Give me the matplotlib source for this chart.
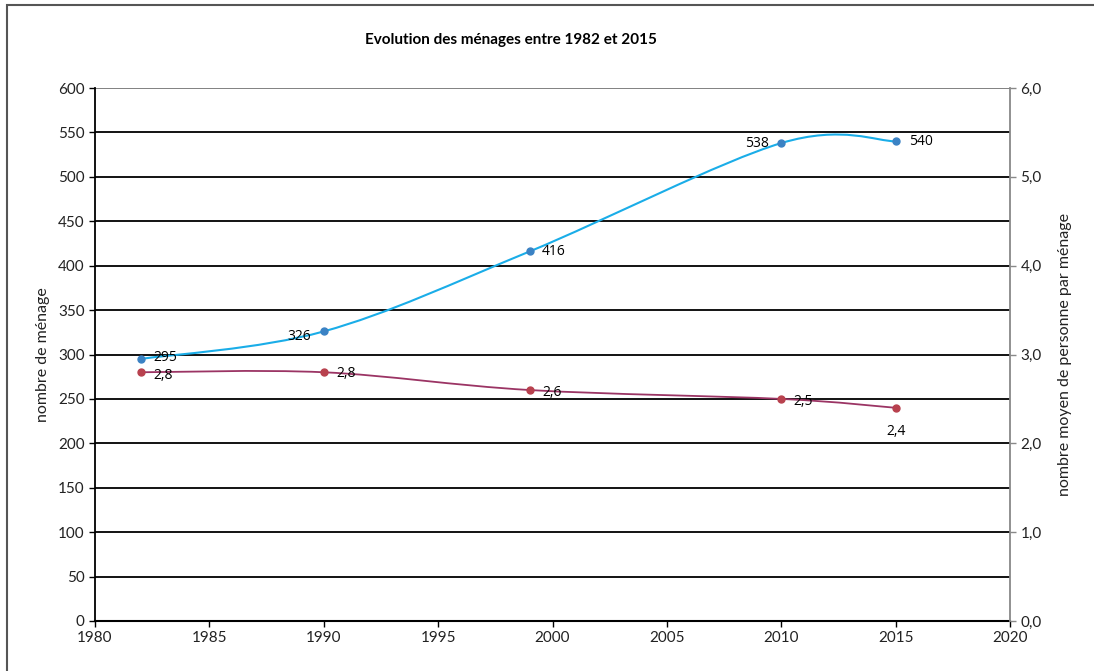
import matplotlib
matplotlib.use("Agg")
import matplotlib.pyplot as plt
import numpy as np
from matplotlib.path import Path
from matplotlib.patches import PathPatch, Rectangle
from matplotlib.ticker import FuncFormatter

years = [1982, 1990, 1999, 2010, 2015]
menages = [295, 326, 416, 538, 540]
personnes = [2.8, 2.8, 2.6, 2.5, 2.4]
title = "Evolution des ménages entre 1982 et 2015"
ylabel_left = "nombre de ménage"
ylabel_right = "nombre moyen de personne par ménage"

plt.rcParams['font.family'] = ['Lato', 'DejaVu Sans']

fig = plt.figure(figsize=(10.94, 6.71), dpi=100)
ax = fig.add_axes([95/1094, 50/671, (1010-95)/1094, (621-88)/671])
ax2 = ax.twinx()

def smooth_path(xs, ys):
    pts = np.column_stack([xs, ys]).astype(float)
    n = len(pts)
    verts = [pts[0]]
    codes = [Path.MOVETO]
    for i in range(n - 1):
        p0 = pts[i - 1] if i > 0 else pts[i]
        p1 = pts[i]
        p2 = pts[i + 1]
        p3 = pts[i + 2] if i + 2 < n else pts[i + 1]
        c1 = p1 + (p2 - p0) / 6.0
        c2 = p2 - (p3 - p1) / 6.0
        verts += [c1, c2, p2]
        codes += [Path.CURVE4] * 3
    return Path(verts, codes)

ax.set_xlim(1980, 2020)
ax.set_ylim(0, 600)
ax2.set_ylim(0, 6)

ax.add_patch(PathPatch(smooth_path(years, menages), fill=False, edgecolor='#1AADE8', lw=1.5, zorder=3))
ax.plot(years, menages, 'o', color='#3B82C4', ms=5, zorder=4)
ax2.add_patch(PathPatch(smooth_path(years, personnes), fill=False, edgecolor='#9B3464', lw=1.3, zorder=3))
ax2.plot(years, personnes, 'o', color='#B8414E', ms=5, zorder=4)

ax.set_yticks(np.arange(0, 601, 50))
ax.set_xticks(np.arange(1980, 2021, 5))
ax2.set_yticks(np.arange(0, 6.01, 1))
for v in np.arange(50, 600, 50):
    ax.axhline(v, color='black', lw=1.3, zorder=1)
ax.axhline(600, color='#777777', lw=1.3, zorder=1)

ax2.yaxis.set_major_formatter(FuncFormatter(lambda v, p: f"{v:.1f}".replace('.', ',')))

for s in ['top']:
    ax.spines[s].set_visible(False)
    ax2.spines[s].set_visible(False)
ax.spines['left'].set_linewidth(1.3)
ax.spines['bottom'].set_linewidth(1.5)
ax.spines['right'].set_visible(False)
ax2.spines['left'].set_visible(False)
ax2.spines['bottom'].set_visible(False)
ax2.spines['right'].set_color('#888888')
ax2.spines['right'].set_linewidth(1.3)

ax.tick_params(axis='both', labelsize=11, colors='black', length=4, width=1, direction='out', labelcolor='#222222')
ax2.tick_params(axis='y', labelsize=11, color='#888888', length=4, width=1, labelcolor='#222222')
ax.tick_params(axis='x', pad=3)

ax.set_ylabel(ylabel_left, fontsize=11.5, color='#222222', labelpad=6)
ax2.set_ylabel(ylabel_right, fontsize=11.5, color='#222222', labelpad=12)

fig.text(511/1094, 1 - 40/671, title, ha='center', va='center', fontsize=11, fontweight='bold')

lab_kw = dict(fontsize=10, color='black', family=['Open Sans', 'DejaVu Sans'], zorder=5)
ax.annotate(str(menages[0]), (years[0], menages[0]), xytext=(9, 1), textcoords='offset points', ha='left', va='center', **lab_kw)
ax.annotate(str(menages[1]), (years[1], menages[1]), xytext=(-9, -4), textcoords='offset points', ha='right', va='center', **lab_kw)
ax.annotate(str(menages[2]), (years[2], menages[2]), xytext=(9, 0), textcoords='offset points', ha='left', va='center', **lab_kw)
ax.annotate(str(menages[3]), (years[3], menages[3]), xytext=(-9, 0), textcoords='offset points', ha='right', va='center', **lab_kw)
ax.annotate(str(menages[4]), (years[4], menages[4]), xytext=(10, 0), textcoords='offset points', ha='left', va='center', **lab_kw)

fmt = lambda v: f"{v:.1f}".replace('.', ',')
ax2.annotate(fmt(personnes[0]), (years[0], personnes[0]), xytext=(9, -2), textcoords='offset points', ha='left', va='center', **lab_kw)
ax2.annotate(fmt(personnes[1]), (years[1], personnes[1]), xytext=(9, -1), textcoords='offset points', ha='left', va='center', **lab_kw)
ax2.annotate(fmt(personnes[2]), (years[2], personnes[2]), xytext=(9, -2), textcoords='offset points', ha='left', va='center', **lab_kw)
ax2.annotate(fmt(personnes[3]), (years[3], personnes[3]), xytext=(9, -2), textcoords='offset points', ha='left', va='center', **lab_kw)
ax2.annotate(fmt(personnes[4]), (years[4], personnes[4]), xytext=(0, -17), textcoords='offset points', ha='center', va='center', **lab_kw)

fig.patches.append(Rectangle((7/1094, -0.1), 1.2, 1.1 - 5/671, transform=fig.transFigure,
                             fill=False, edgecolor='#555555', lw=1.5, clip_on=False))

fig.savefig('out.png', dpi=100)
